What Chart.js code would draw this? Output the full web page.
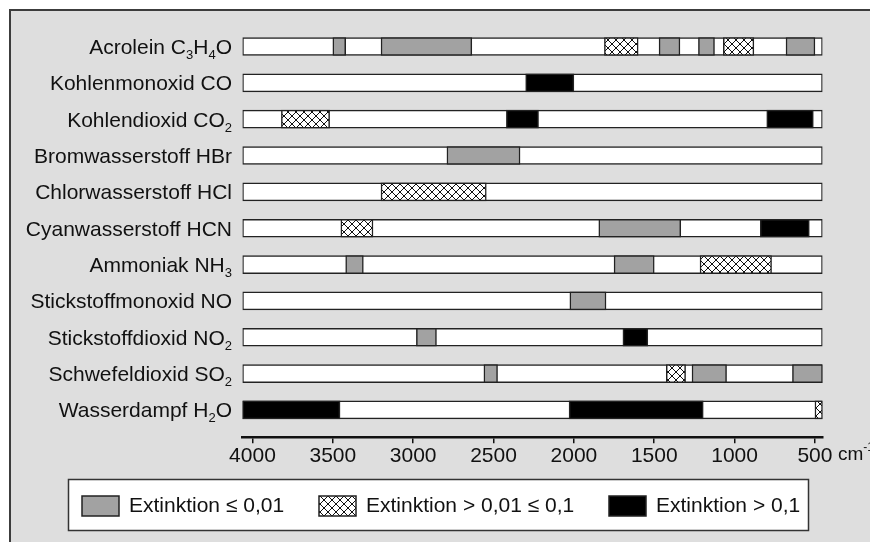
<!DOCTYPE html>
<html><head><meta charset="utf-8">
<script src="https://cdn.jsdelivr.net/npm/chart.js@4/dist/chart.umd.min.js"></script>
<style>html,body{margin:0;padding:0;background:#fff;}#wrap{width:870px;height:542px;position:relative;}</style>
</head><body><div id="wrap"><canvas id="c" width="870" height="542"></canvas></div>
<script>
// ---- Daten ----
const substanzen = ['Acrolein C₃H₄O','Kohlenmonoxid CO','Kohlendioxid CO₂','Bromwasserstoff HBr','Chlorwasserstoff HCl','Cyanwasserstoff HCN','Ammoniak NH₃','Stickstoffmonoxid NO','Stickstoffdioxid NO₂','Schwefeldioxid SO₂','Wasserdampf H₂O'];
const wellenzahlTicks = [4000,3500,3000,2500,2000,1500,1000,500];
const einheit = 'cm';
const einheitExponent = '-1';
const bereichVon = 4062;
const bereichBis = 453;
const legendenTexte = ['Extinktion ≤ 0,01','Extinktion > 0,01 ≤ 0,1','Extinktion > 0,1'];
// [Zeile, von, bis] in cm-1
const extinktionGering = [
  [0,3500,3420],[0,3200,2635],[0,1470,1340],[0,1225,1125],[0,680,500],
  [3,2790,2335],
  [5,1845,1335],
  [6,3420,3310],[6,1750,1500],
  [7,2025,1800],
  [8,2980,2855],
  [9,2560,2475],[9,1265,1050],[9,640,453]
];
const extinktionMittel = [
  [0,1810,1600],[0,1070,880],
  [2,3820,3520],
  [4,3200,2545],
  [5,3450,3250],
  [6,1215,770],
  [9,1425,1305],
  [10,500,453]
];
const extinktionHoch = [
  [1,2300,2000],
  [2,2420,2220],[2,800,510],
  [5,840,535],
  [8,1695,1540],
  [10,4062,3455],[10,2030,1195]
];

// ---- Darstellung ----
const FONT = "'Liberation Sans', Arial, sans-serif";
const FS = 21;
const GRAU = '#a2a2a2';
function makeHatch(){
  const p = document.createElement('canvas'); p.width = 8; p.height = 8;
  const g = p.getContext('2d');
  g.fillStyle = '#fff'; g.fillRect(0,0,8,8);
  g.strokeStyle = '#111'; g.lineWidth = 1;
  g.beginPath();
  g.moveTo(-1,-1); g.lineTo(9,9);
  g.moveTo(9,-1); g.lineTo(-1,9);
  g.stroke();
  return document.getElementById('c').getContext('2d').createPattern(p,'repeat');
}
const HATCH = makeHatch();
const toPts = arr => arr.map(([r,a,b]) => ({y:r, x:[a,b]}));
const common = {grouped:false, barThickness:18, borderColor:'#222', borderWidth:1.5, borderSkipped:false};

const framePlugin = {
  id:'frame',
  beforeDraw(chart){
    const c = chart.ctx;
    c.save();
    c.fillStyle = '#fff'; c.fillRect(0,0,870,542);
    c.fillStyle = '#dedede'; c.fillRect(9,9,870,542);
    c.strokeStyle = '#3c3c3c'; c.lineWidth = 2;
    c.beginPath(); c.moveTo(10,542); c.lineTo(10,10); c.lineTo(870,10); c.stroke();
    c.restore();
  }
};
const SUB = '₀₁₂₃₄₅₆₇₈₉';
function drawRich(c, text, xRight, yBase){
  const parts = [];
  for (const ch of text){
    const s = SUB.indexOf(ch);
    const sub = s >= 0;
    const t = sub ? String(s) : ch;
    if (parts.length && parts[parts.length-1].sub === sub) parts[parts.length-1].t += t;
    else parts.push({t, sub});
  }
  let w = 0;
  for (const p of parts){ c.font = (p.sub ? '13px ' : FS + 'px ') + FONT; p.w = c.measureText(p.t).width; w += p.w; }
  let x = xRight - w;
  for (const p of parts){
    c.font = (p.sub ? '13px ' : FS + 'px ') + FONT;
    c.fillText(p.t, x, yBase + (p.sub ? 5 : 0));
    x += p.w;
  }
}
const labelPlugin = {
  id:'labels',
  afterDraw(chart){
    const c = chart.ctx, ys = chart.scales.y, xs = chart.scales.x;
    c.save();
    c.fillStyle = '#111'; c.textAlign = 'left'; c.textBaseline = 'alphabetic';
    substanzen.forEach((s,i) => drawRich(c, s, 232, ys.getPixelForValue(i) + 7.5));
    // Einheit
    const yb = xs.top + 6 + 17;
    c.font = '19px ' + FONT;
    c.fillText(einheit, 838, yb);
    const wcm = c.measureText(einheit).width;
    c.font = '12px ' + FONT;
    c.fillText(einheitExponent, 838 + wcm, yb - 9);
    // Legende
    c.fillStyle = '#fff'; c.strokeStyle = '#333'; c.lineWidth = 1.5;
    c.fillRect(68.5,479.5,740,51); c.strokeRect(68.5,479.5,740,51);
    const fills = [GRAU, HATCH, '#000'];
    const sx = [82, 319, 609];
    legendenTexte.forEach((t,i) => {
      c.fillStyle = fills[i]; c.fillRect(sx[i], 496, 37, 20);
      c.strokeStyle = '#222'; c.lineWidth = 1.5; c.strokeRect(sx[i], 496, 37, 20);
      c.fillStyle = '#111'; c.font = FS + 'px ' + FONT; c.textBaseline = 'middle';
      c.fillText(t, sx[i] + 47, 506);
    });
    c.restore();
  }
};

new Chart(document.getElementById('c'), {
  type:'bar',
  data:{
    datasets:[
      Object.assign({label:legendenTexte[0], data:toPts(extinktionGering), backgroundColor:GRAU, order:1}, common),
      Object.assign({label:legendenTexte[1], data:toPts(extinktionMittel), backgroundColor:HATCH, order:1}, common),
      Object.assign({label:legendenTexte[2], data:toPts(extinktionHoch), backgroundColor:'#000', order:1}, common),
      Object.assign({label:'Bereich', data:substanzen.map((s,i)=>({y:i, x:[bereichVon, bereichBis]})), backgroundColor:'#fff', order:5}, common)
    ]
  },
  options:{
    indexAxis:'y', responsive:false, animation:false, events:[],
    layout:{padding:{left:0, right:47.5, top:28.3, bottom:74.8}},
    plugins:{legend:{display:false}, tooltip:{enabled:false}},
    scales:{
      x:{type:'linear', reverse:true, min:bereichBis, max:bereichVon, offset:false,
        afterBuildTicks:s => { s.ticks = wellenzahlTicks.map(v => ({value:v})); },
        ticks:{font:{family:FONT, size:FS}, color:'#111', padding:0, maxRotation:0, autoSkip:false, callback:v => String(v)},
        grid:{display:true, drawOnChartArea:false, drawTicks:true, tickLength:6, color:'#111', lineWidth:1.5},
        border:{display:true, color:'#111', width:2.5},
        afterFit:s => { s.height = 30; }
      },
      y:{type:'linear', reverse:true, min:-0.5, max:10.75, offset:false,
        ticks:{display:false}, grid:{display:false, offset:false}, border:{display:false},
        afterFit:s => { s.width = 242.5; }
      }
    }
  },
  plugins:[framePlugin, labelPlugin]
});
</script></body></html>
